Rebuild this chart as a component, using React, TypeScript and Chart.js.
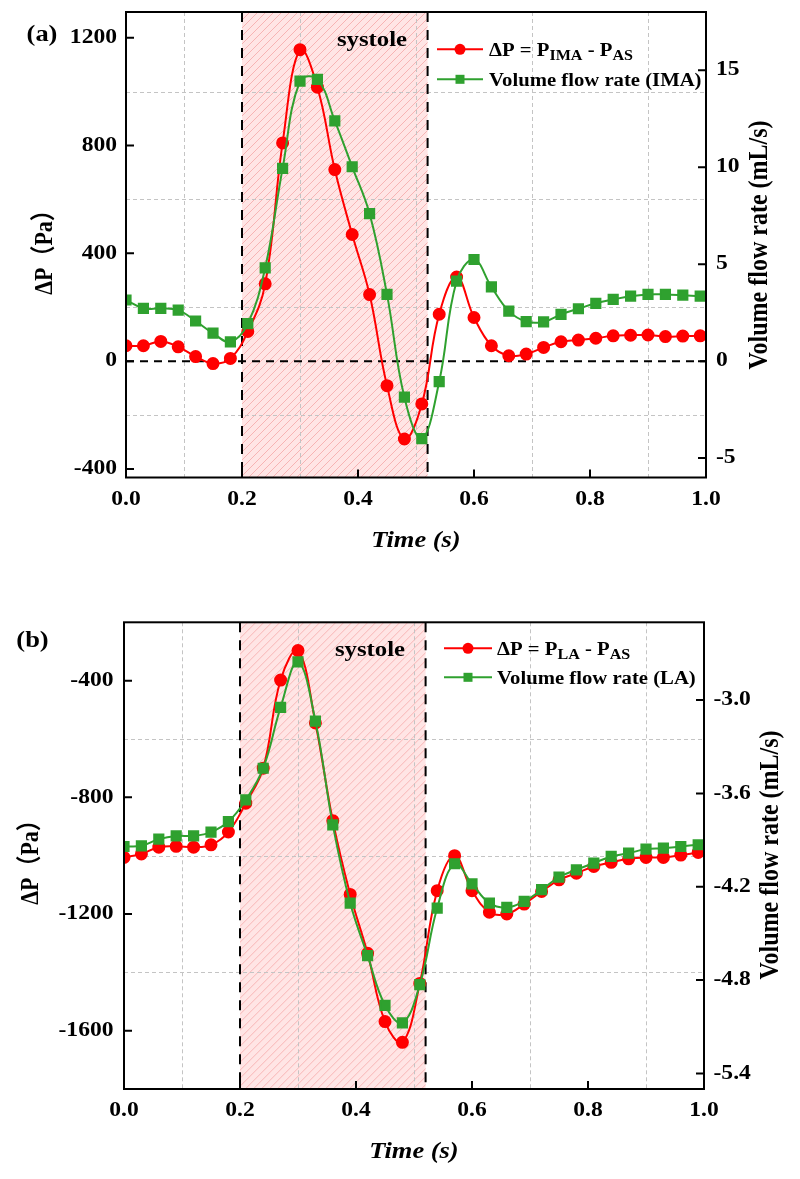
import React, { useEffect, useRef } from 'react';
import { Chart, registerables } from 'chart.js';

Chart.register(...registerables);

// Sampling instants (s), one marker every 0.03 s
const TIME = [
  0, 0.03, 0.06, 0.09, 0.12, 0.15, 0.18, 0.21, 0.24, 0.27, 0.3, 0.33, 0.36, 0.39, 0.42, 0.45, 0.48,
  0.51, 0.54, 0.57, 0.6, 0.63, 0.66, 0.69, 0.72, 0.75, 0.78, 0.81, 0.84, 0.87, 0.9, 0.93, 0.96, 0.99,
];

// Panel (a): pressure difference IMA - AS (Pa) and IMA volume flow rate (mL/s)
const DP_IMA = [
  57, 57, 73, 53, 17, -9, 10, 110, 287, 810, 1156, 1017, 711, 470, 247, -91, -289,
  -159, 174, 312, 162, 57, 20, 26, 51, 72, 78, 85, 94, 96, 97, 91, 93, 94,
];
const Q_IMA = [
  3.15, 2.72, 2.72, 2.63, 2.07, 1.44, 0.99, 1.93, 4.81, 9.94, 14.44, 14.53, 12.39, 10.02, 7.6, 3.44, -1.86,
  -4.0, -1.06, 4.12, 5.24, 3.83, 2.58, 2.04, 2.02, 2.41, 2.7, 2.98, 3.18, 3.35, 3.44, 3.44, 3.4, 3.35,
];

// Panel (b): pressure difference LA - AS (Pa) and LA volume flow rate (mL/s)
const DP_LA = [
  -1006, -994, -971, -968, -971, -963, -919, -820, -700, -398, -297, -545, -880, -1133, -1335, -1569, -1640,
  -1438, -1120, -1000, -1120, -1194, -1200, -1166, -1123, -1083, -1060, -1037, -1023, -1011, -1006, -1006, -998, -989,
];
const Q_LA = [
  -3.941, -3.937, -3.894, -3.873, -3.873, -3.849, -3.781, -3.642, -3.438, -3.047, -2.754, -3.135, -3.802, -4.305, -4.643, -4.962, -5.075,
  -4.829, -4.337, -4.052, -4.181, -4.305, -4.333, -4.294, -4.219, -4.138, -4.091, -4.048, -4.005, -3.984, -3.958, -3.952, -3.941, -3.93,
];

// Axis ticks and grid positions
const X_TICKS = [0, 0.2, 0.4, 0.6, 0.8, 1.0];
const X_GRID = [0.1, 0.3, 0.5, 0.7, 0.9];
const SYSTOLE = [0.2, 0.52];

const A_LEFT_TICKS = [-400, 0, 400, 800, 1200];
const A_LEFT_GRID = [-200, 200, 600, 1000];
const A_RIGHT_TICKS = [-5, 0, 5, 10, 15];

const B_LEFT_TICKS = [-1600, -1200, -800, -400];
const B_LEFT_GRID = [-1400, -1000, -600];
const B_RIGHT_TICKS = [-5.4, -4.8, -4.2, -3.6, -3.0];

const FONT = '"Liberation Serif", "Times New Roman", "Noto Sans CJK SC", serif';
const RED = '#FF0000';
const GREEN = '#2FA12F';
const SX = 1.15; // horizontal text widening
const TICK_FONT = 20.5;

type Pt = [number, number];

interface PanelSpec {
  tag: string;
  height: number;
  padding: { left: number; right: number; top: number; bottom: number };
  dp: number[];
  q: number[];
  leftRange: [number, number];
  rightRange: [number, number];
  leftTicks: number[];
  leftGrid: number[];
  rightTicks: number[];
  rightDecimals: number;
  zeroLine: boolean;
  dpSub: string;
  flowLabel: string;
  leftLabelX: number;
  rightLabelX: number;
  xLabelY: number;
  tagPos: Pt;
  systolePos: Pt;
  leftTitlePos: Pt;
  rightTitlePos: Pt;
  xTitlePos: Pt;
  legend: { x0: number; x1: number; textX: number; rows: [number, number] };
}

const PANEL_A: PanelSpec = {
  tag: '(a)',
  height: 575,
  padding: { left: 126, right: 94, top: 12, bottom: 97.5 },
  dp: DP_IMA,
  q: Q_IMA,
  leftRange: [-432, 1296],
  rightRange: [-6, 18],
  leftTicks: A_LEFT_TICKS,
  leftGrid: A_LEFT_GRID,
  rightTicks: A_RIGHT_TICKS,
  rightDecimals: 0,
  zeroLine: true,
  dpSub: 'IMA',
  flowLabel: 'Volume flow rate (IMA)',
  leftLabelX: 117,
  rightLabelX: 716,
  xLabelY: 500,
  tagPos: [42, 35],
  systolePos: [372, 40],
  leftTitlePos: [45, 247],
  rightTitlePos: [760, 245],
  xTitlePos: [416, 541],
  legend: { x0: 437, x1: 483, textX: 489, rows: [49.3, 79.3] },
};

const PANEL_B: PanelSpec = {
  tag: '(b)',
  height: 604,
  padding: { left: 124, right: 96, top: 47.3, bottom: 90 },
  dp: DP_LA,
  q: Q_LA,
  leftRange: [-1800, -200],
  rightRange: [-5.5, -2.5],
  leftTicks: B_LEFT_TICKS,
  leftGrid: B_LEFT_GRID,
  rightTicks: B_RIGHT_TICKS,
  rightDecimals: 1,
  zeroLine: false,
  dpSub: 'LA',
  flowLabel: 'Volume flow rate (LA)',
  leftLabelX: 113.5,
  rightLabelX: 713.5,
  xLabelY: 536,
  tagPos: [32.5, 66],
  systolePos: [370, 75],
  leftTitlePos: [31, 282],
  rightTitlePos: [771, 280],
  xTitlePos: [414, 577],
  legend: { x0: 444, x1: 492, textX: 497, rows: [73.3, 102.3] },
};

function drawText(
  ctx: CanvasRenderingContext2D,
  s: string,
  x: number,
  y: number,
  size: number,
  opts: { align?: CanvasTextAlign; rotate?: boolean; italic?: boolean } = {}
) {
  ctx.save();
  ctx.translate(x, y);
  if (opts.rotate) {
    ctx.rotate(-Math.PI / 2);
    ctx.scale(1, SX);
  } else {
    ctx.scale(SX, 1);
  }
  ctx.font = `${opts.italic ? 'italic ' : ''}bold ${size}px ${FONT}`;
  ctx.textAlign = opts.align ?? 'center';
  ctx.textBaseline = 'middle';
  ctx.fillStyle = '#000';
  ctx.fillText(s, 0, 0);
  ctx.restore();
}

function drawRich(
  ctx: CanvasRenderingContext2D,
  parts: { t: string; sub?: boolean }[],
  x: number,
  baseline: number
) {
  let cx = x;
  for (const p of parts) {
    ctx.save();
    ctx.font = `bold ${p.sub ? 14 : 18}px ${FONT}`;
    const w = ctx.measureText(p.t).width * SX;
    ctx.translate(cx, baseline + (p.sub ? 4 : 0));
    ctx.scale(SX, 1);
    ctx.textAlign = 'left';
    ctx.textBaseline = 'alphabetic';
    ctx.fillStyle = '#000';
    ctx.fillText(p.t, 0, 0);
    ctx.restore();
    cx += w;
  }
}

function decorPlugin(spec: PanelSpec) {
  return {
    id: 'panelDecor',
    beforeDatasetsDraw(chart: Chart) {
      const { ctx, chartArea: a } = chart;
      const x = chart.scales.x;
      const yl = chart.scales.yL;
      const xs0 = x.getPixelForValue(SYSTOLE[0]);
      const xs1 = x.getPixelForValue(SYSTOLE[1]);
      const h = a.bottom - a.top;

      // systole band: pale fill with diagonal hatching
      ctx.save();
      ctx.fillStyle = 'rgba(255,170,170,0.3)';
      ctx.fillRect(xs0, a.top, xs1 - xs0, h);
      ctx.beginPath();
      ctx.rect(xs0, a.top, xs1 - xs0, h);
      ctx.clip();
      ctx.strokeStyle = 'rgba(238,120,120,0.45)';
      ctx.lineWidth = 1;
      ctx.beginPath();
      for (let s = xs0 - h; s < xs1; s += 8) {
        ctx.moveTo(s, a.bottom);
        ctx.lineTo(s + h, a.top);
      }
      ctx.stroke();
      ctx.restore();

      // dashed grid
      ctx.save();
      ctx.strokeStyle = '#c4c4c4';
      ctx.lineWidth = 1;
      ctx.setLineDash([4, 3]);
      ctx.beginPath();
      for (const v of X_GRID) {
        const px = Math.round(x.getPixelForValue(v)) + 0.5;
        ctx.moveTo(px, a.top);
        ctx.lineTo(px, a.bottom);
      }
      for (const v of spec.leftGrid) {
        const py = Math.round(yl.getPixelForValue(v)) + 0.5;
        ctx.moveTo(a.left, py);
        ctx.lineTo(a.right, py);
      }
      ctx.stroke();

      // systole boundaries and zero reference
      ctx.strokeStyle = '#000';
      ctx.lineWidth = 2;
      ctx.setLineDash([10, 8]);
      ctx.beginPath();
      for (const v of SYSTOLE) {
        const px = x.getPixelForValue(v);
        ctx.moveTo(px, a.top);
        ctx.lineTo(px, a.bottom);
      }
      ctx.stroke();
      if (spec.zeroLine) {
        ctx.setLineDash([8, 6]);
        ctx.beginPath();
        const py = yl.getPixelForValue(0);
        ctx.moveTo(a.left, py);
        ctx.lineTo(a.right, py);
        ctx.stroke();
      }
      ctx.restore();
    },
    afterDraw(chart: Chart) {
      const { ctx, chartArea: a } = chart;
      const x = chart.scales.x;
      const yl = chart.scales.yL;
      const yr = chart.scales.yR;
      const TL = 8;

      // frame and inward ticks
      ctx.save();
      ctx.strokeStyle = '#000';
      ctx.lineWidth = 2;
      ctx.strokeRect(a.left, a.top, a.right - a.left, a.bottom - a.top);
      ctx.beginPath();
      for (const v of X_TICKS) {
        const px = x.getPixelForValue(v);
        ctx.moveTo(px, a.bottom);
        ctx.lineTo(px, a.bottom - TL);
      }
      for (const v of spec.leftTicks) {
        const py = yl.getPixelForValue(v);
        ctx.moveTo(a.left, py);
        ctx.lineTo(a.left + TL, py);
      }
      for (const v of spec.rightTicks) {
        const py = yr.getPixelForValue(v);
        ctx.moveTo(a.right, py);
        ctx.lineTo(a.right - TL, py);
      }
      ctx.stroke();
      ctx.restore();

      // tick labels
      for (const v of X_TICKS) {
        drawText(ctx, v.toFixed(1), x.getPixelForValue(v), spec.xLabelY, TICK_FONT);
      }
      for (const v of spec.leftTicks) {
        drawText(ctx, String(v), spec.leftLabelX, yl.getPixelForValue(v), TICK_FONT, { align: 'right' });
      }
      for (const v of spec.rightTicks) {
        drawText(ctx, v.toFixed(spec.rightDecimals), spec.rightLabelX, yr.getPixelForValue(v), TICK_FONT, {
          align: 'left',
        });
      }

      // titles and annotations
      drawText(ctx, spec.tag, spec.tagPos[0], spec.tagPos[1], 23);
      drawText(ctx, 'systole', spec.systolePos[0], spec.systolePos[1], 21.5);
      drawText(ctx, 'ΔP（Pa）', spec.leftTitlePos[0], spec.leftTitlePos[1], 22, { rotate: true });
      drawText(ctx, 'Volume flow rate (mL/s)', spec.rightTitlePos[0], spec.rightTitlePos[1], 24, {
        rotate: true,
      });
      drawText(ctx, 'Time (s)', spec.xTitlePos[0], spec.xTitlePos[1], 23, { italic: true });

      // legend
      const L = spec.legend;
      const mx = (L.x0 + L.x1) / 2;
      ctx.save();
      ctx.lineWidth = 2;
      ctx.strokeStyle = RED;
      ctx.beginPath();
      ctx.moveTo(L.x0, L.rows[0]);
      ctx.lineTo(L.x1, L.rows[0]);
      ctx.stroke();
      ctx.fillStyle = RED;
      ctx.beginPath();
      ctx.arc(mx, L.rows[0], 5.5, 0, Math.PI * 2);
      ctx.fill();
      ctx.strokeStyle = GREEN;
      ctx.beginPath();
      ctx.moveTo(L.x0, L.rows[1]);
      ctx.lineTo(L.x1, L.rows[1]);
      ctx.stroke();
      ctx.fillStyle = GREEN;
      ctx.fillRect(mx - 4.5, L.rows[1] - 4.5, 9, 9);
      ctx.restore();
      drawRich(
        ctx,
        [{ t: 'ΔP = P' }, { t: spec.dpSub, sub: true }, { t: ' - P' }, { t: 'AS', sub: true }],
        L.textX,
        L.rows[0] + 6.5
      );
      drawRich(ctx, [{ t: spec.flowLabel }], L.textX, L.rows[1] + 6.5);
    },
  };
}

function buildConfig(spec: PanelSpec): any {
  return {
    type: 'line',
    data: {
      datasets: [
        {
          label: 'ΔP',
          data: TIME.map((t, i) => ({ x: t, y: spec.dp[i] })),
          yAxisID: 'yL',
          borderColor: RED,
          backgroundColor: RED,
          pointBackgroundColor: RED,
          pointBorderColor: RED,
          pointStyle: 'circle',
          pointRadius: 5.5,
          borderWidth: 2,
          tension: 0.4,
          order: 1,
        },
        {
          label: spec.flowLabel,
          data: TIME.map((t, i) => ({ x: t, y: spec.q[i] })),
          yAxisID: 'yR',
          borderColor: GREEN,
          backgroundColor: GREEN,
          pointBackgroundColor: GREEN,
          pointBorderColor: GREEN,
          pointStyle: 'rect',
          pointRadius: 6.5,
          borderWidth: 2,
          tension: 0.4,
          order: 0,
        },
      ],
    },
    options: {
      animation: false,
      responsive: false,
      devicePixelRatio: 1,
      events: [],
      layout: { padding: spec.padding },
      scales: {
        x: { type: 'linear', min: 0, max: 1, display: false },
        yL: { type: 'linear', position: 'left', min: spec.leftRange[0], max: spec.leftRange[1], display: false },
        yR: { type: 'linear', position: 'right', min: spec.rightRange[0], max: spec.rightRange[1], display: false },
      },
      plugins: { legend: { display: false }, tooltip: { enabled: false } },
    },
    plugins: [decorPlugin(spec)],
  };
}

function Panel({ spec, top }: { spec: PanelSpec; top: number }) {
  const ref = useRef<HTMLCanvasElement>(null);
  useEffect(() => {
    if (!ref.current) return;
    const chart = new Chart(ref.current, buildConfig(spec));
    return () => chart.destroy();
  }, [spec]);
  return (
    <canvas
      ref={ref}
      width={800}
      height={spec.height}
      style={{ position: 'absolute', left: 0, top, width: 800, height: spec.height, display: 'block' }}
    />
  );
}

export default function App() {
  return (
    <div style={{ position: 'absolute', left: 0, top: 0, width: 800, height: 1179, background: '#fff' }}>
      <Panel spec={PANEL_A} top={0} />
      <Panel spec={PANEL_B} top={PANEL_A.height} />
    </div>
  );
}
